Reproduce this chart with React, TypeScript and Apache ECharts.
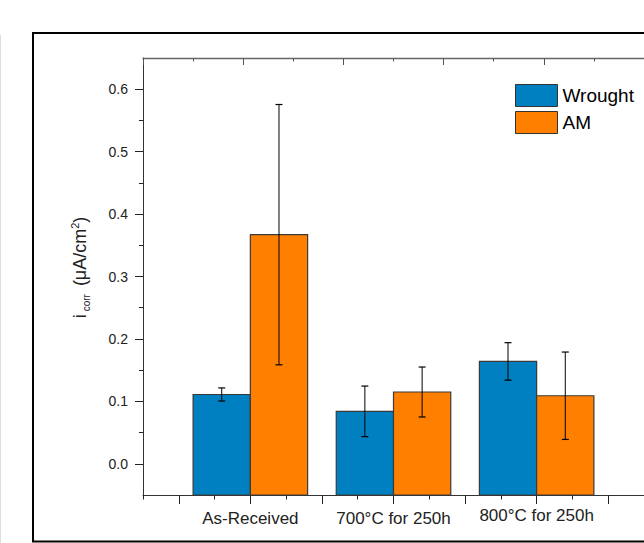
import React, { useEffect, useRef } from "react";
import * as echarts from "echarts";

const categories = ["As-Received", "700°C for 250h", "800°C for 250h"];
const catPositions = [1, 2, 3];
const wrought = [0.111, 0.084, 0.164];
const wroughtErr = [0.0105, 0.0405, 0.03];
const am = [0.367, 0.115, 0.109];
const amErr = [0.2085, 0.04, 0.07];
const yTickValues = [0, 0.1, 0.2, 0.3, 0.4, 0.5, 0.6];
const yMinorValues = [0.05, 0.15, 0.25, 0.35, 0.45, 0.55];
const xMajorTicks = [0.5, 1, 1.5, 2, 2.5, 3, 3.5];
const xMinorTicks = [0.25, 0.75, 1.25, 1.75, 2.25, 2.75, 3.25, 3.75];
const topMajorTicks = [0, 1, 2, 3, 4, 5];
const topMinorTicks = [0.5, 1.5, 2.5, 3.5, 4.5];

const Y_MIN = -0.05;
const Y_MAX = 0.65;
const BAR_W = 0.4;
const FONT = "Liberation Sans, Arial, sans-serif";

function makeRender(side: number) {
  return (params: any, api: any) => {
    const x = api.value(0);
    const y = api.value(1);
    const e = api.value(2);
    const x0 = side < 0 ? x - BAR_W : x;
    const x1 = side < 0 ? x : x + BAR_W;
    const tl = api.coord([x0, y]);
    const br = api.coord([x1, Y_MIN]);
    const cx = api.coord([(x0 + x1) / 2, y])[0];
    const top = api.coord([x, y + e])[1];
    const bot = api.coord([x, y - e])[1];
    const cap = 3.5;
    return {
      type: "group",
      children: [
        {
          type: "rect",
          shape: { x: tl[0], y: tl[1], width: br[0] - tl[0], height: br[1] - tl[1] },
          style: { fill: api.visual("color"), stroke: "#3a3a3a", lineWidth: 1.2 },
        },
        { type: "line", shape: { x1: cx, y1: top, x2: cx, y2: bot }, style: { stroke: "#000", lineWidth: 1 } },
        { type: "line", shape: { x1: cx - cap, y1: top, x2: cx + cap, y2: top }, style: { stroke: "#000", lineWidth: 1.2 } },
        { type: "line", shape: { x1: cx - cap, y1: bot, x2: cx + cap, y2: bot }, style: { stroke: "#000", lineWidth: 1.2 } },
      ],
    };
  };
}

export default function App() {
  const ref = useRef<HTMLDivElement>(null);
  useEffect(() => {
    document.body.style.margin = "0";
    const chart = echarts.init(ref.current!, null, { renderer: "svg" });
    const axisLine = { show: true, onZero: false, lineStyle: { color: "#333", width: 1 } };
    const noLine = { show: false, onZero: false };
    chart.setOption({
      animation: false,
      backgroundColor: "#fff",
      textStyle: { fontFamily: FONT },
      grid: { left: 143, top: 58, right: -11, bottom: 48 },
      legend: {
        data: ["Wrought", "AM"],
        orient: "vertical",
        left: 515,
        top: 84,
        padding: 0,
        icon: "rect",
        itemWidth: 42,
        itemHeight: 22,
        itemGap: 4,
        itemStyle: { borderColor: "#333", borderWidth: 1 },
        textStyle: { fontSize: 19, color: "#000", fontFamily: FONT },
      },
      xAxis: [
        {
          type: "value",
          position: "bottom",
          min: 0.25,
          max: 3.75,
          axisLine,
          splitLine: { show: false },
          axisTick: { show: true, customValues: xMajorTicks, length: 9, lineStyle: { color: "#222" } },
          axisLabel: {
            show: true,
            customValues: catPositions,
            margin: 12,
            fontSize: 17,
            color: "#222",
            formatter: (v: number) => {
              const i = catPositions.indexOf(Math.round(v));
              return i === 2 ? `{b|${categories[i]}}` : `{a|${categories[i]}}`;
            },
            rich: {
              a: { fontSize: 17, color: "#222", fontFamily: FONT, padding: [3, 0, 0, 0] },
              b: { fontSize: 17, color: "#222", fontFamily: FONT },
            },
          },
        },
        {
          type: "value",
          position: "bottom",
          min: 0.25,
          max: 3.75,
          axisLine: noLine,
          splitLine: { show: false },
          axisTick: { show: true, customValues: xMinorTicks, length: 4.5, lineStyle: { color: "#222" } },
          axisLabel: { show: false },
        },
        {
          type: "value",
          position: "top",
          min: 0,
          max: 5,
          axisLine: { show: true, onZero: false, lineStyle: { color: "#666", width: 1.3 } },
          splitLine: { show: false },
          axisTick: { show: true, inside: true, customValues: topMajorTicks, length: 7, lineStyle: { color: "#555" } },
          axisLabel: { show: false },
        },
        {
          type: "value",
          position: "top",
          min: 0,
          max: 5,
          axisLine: noLine,
          splitLine: { show: false },
          axisTick: { show: true, inside: true, customValues: topMinorTicks, length: 3.5, lineStyle: { color: "#555" } },
          axisLabel: { show: false },
        },
      ],
      yAxis: [
        {
          type: "value",
          position: "left",
          min: Y_MIN,
          max: Y_MAX,
          axisLine,
          splitLine: { show: false },
          axisTick: { show: true, customValues: yTickValues, length: 8, lineStyle: { color: "#222" } },
          axisLabel: {
            show: true,
            customValues: yTickValues,
            margin: 15,
            fontSize: 14,
            color: "#222",
            formatter: (v: number) => v.toFixed(1),
          },
          name: "{m|i}{s|corr}{m| (μA/cm}{p|2}{m|)}",
          nameLocation: "middle",
          nameGap: 52,
          nameTextStyle: {
            padding: [0, 0, 0, 18],
            rich: {
              m: { fontSize: 18, color: "#222", fontFamily: FONT, lineHeight: 22 },
              s: { fontSize: 10, color: "#222", fontFamily: FONT, verticalAlign: "bottom", padding: [0, 3, 0, 3] },
              p: { fontSize: 11, color: "#222", fontFamily: FONT, verticalAlign: "top" },
            },
          },
        },
        {
          type: "value",
          position: "left",
          min: Y_MIN,
          max: Y_MAX,
          axisLine: noLine,
          splitLine: { show: false },
          axisTick: { show: true, customValues: yMinorValues, length: 4, lineStyle: { color: "#222" } },
          axisLabel: { show: false },
        },
      ],
      series: [
        {
          name: "Wrought",
          type: "custom",
          xAxisIndex: 0,
          yAxisIndex: 0,
          itemStyle: { color: "#0080C0" },
          encode: { x: 0, y: 1 },
          renderItem: makeRender(-1),
          data: wrought.map((v, i) => [catPositions[i], v, wroughtErr[i]]),
        },
        {
          name: "AM",
          type: "custom",
          xAxisIndex: 0,
          yAxisIndex: 0,
          itemStyle: { color: "#FF8000" },
          encode: { x: 0, y: 1 },
          renderItem: makeRender(1),
          data: am.map((v, i) => [catPositions[i], v, amErr[i]]),
        },
      ],
      graphic: [
        {
          type: "rect",
          shape: { x: 33, y: 33, width: 700, height: 508.5 },
          style: { fill: "none", stroke: "#000", lineWidth: 2 },
          silent: true,
        },
        {
          type: "line",
          shape: { x1: 0.5, y1: 35, x2: 0.5, y2: 543 },
          style: { stroke: "#ddd", lineWidth: 1 },
          silent: true,
        },
      ],
    });
    return () => chart.dispose();
  }, []);
  return <div ref={ref} style={{ width: 644, height: 543 }} />;
}
